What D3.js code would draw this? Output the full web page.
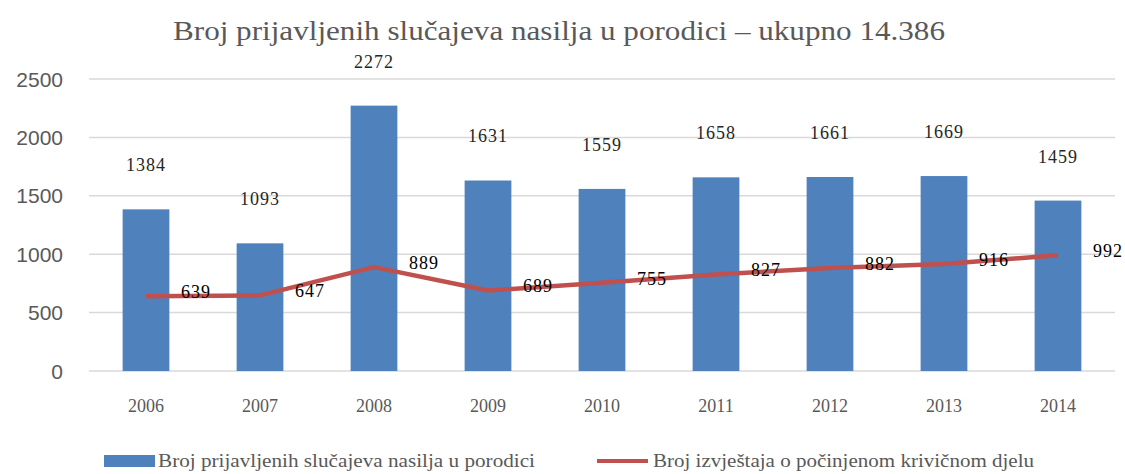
<!DOCTYPE html>
<html>
<head>
<meta charset="utf-8">
<script src="https://cdn.jsdelivr.net/npm/d3@7"></script>
<style>
  body { margin: 0; background: #fff; }
  svg { display: block; }
</style>
</head>
<body>
<div id="chart"></div>
<script>
// chart data
var years = ["2006", "2007", "2008", "2009", "2010", "2011", "2012", "2013", "2014"];
var prijave = [1384, 1093, 2272, 1631, 1559, 1658, 1661, 1669, 1459];
var izvjestaji = [639, 647, 889, 689, 755, 827, 882, 916, 992];
var yTicks = [0, 500, 1000, 1500, 2000, 2500];
var titleText = "Broj prijavljenih slučajeva nasilja u porodici \u2013 ukupno 14.386";
var seriesNames = ["Broj prijavljenih slučajeva nasilja u porodici", "Broj izvještaja o počinjenom krivičnom djelu"];

var W = 1125, H = 474;
var margin = { top: 79, right: 10, bottom: 103, left: 89 };
var width = W - margin.left - margin.right;
var height = H - margin.top - margin.bottom;

var serif = "'Liberation Serif', 'Times New Roman', serif";

var svg = d3.select("#chart").append("svg")
    .attr("width", W)
    .attr("height", H);

var g = svg.append("g")
    .attr("transform", "translate(" + margin.left + "," + margin.top + ")");

// scales
var x = d3.scaleBand()
    .domain(years)
    .range([0, width])
    .paddingInner(0.59)
    .paddingOuter(0.295);

var y = d3.scaleLinear()
    .domain([0, 2500])
    .range([height, 0]);

// gridlines
g.append("g").attr("class", "grid")
    .selectAll("line")
    .data(yTicks)
    .enter().append("line")
    .attr("x1", 0)
    .attr("x2", width)
    .attr("y1", function(d){ return y(d); })
    .attr("y2", function(d){ return y(d); })
    .attr("stroke", "#d9d9d9")
    .attr("stroke-width", 1.5);

// y tick labels
g.append("g")
    .selectAll("text")
    .data(yTicks)
    .enter().append("text")
    .attr("x", -26)
    .attr("y", function(d){ return y(d); })
    .attr("dy", "0.36em")
    .attr("text-anchor", "end")
    .attr("font-family", "'Liberation Sans', Arial, sans-serif")
    .attr("font-size", "21px")
    .attr("fill", "#595959")
    .text(function(d){ return d; });

// bars
g.append("g")
    .selectAll("rect")
    .data(prijave)
    .enter().append("rect")
    .attr("x", function(d, i){ return x(years[i]); })
    .attr("y", function(d){ return y(d); })
    .attr("width", x.bandwidth())
    .attr("height", function(d){ return height - y(d); })
    .attr("fill", "#4f81bd");

// bar labels (sit well above the bars, as in the original)
g.append("g")
    .selectAll("text")
    .data(prijave)
    .enter().append("text")
    .attr("x", function(d, i){ return x(years[i]) + x.bandwidth() / 2; })
    .attr("y", function(d){ return y(d) - 38; })
    .attr("text-anchor", "middle")
    .attr("font-family", serif)
    .attr("font-size", "18px")
    .attr("letter-spacing", "1px")
    .attr("fill", "#262626")
    .text(function(d){ return d; });

// line
var line = d3.line()
    .x(function(d, i){ return x(years[i]) + x.bandwidth() / 2; })
    .y(function(d){ return y(d); });

g.append("path")
    .datum(izvjestaji)
    .attr("d", line)
    .attr("fill", "none")
    .attr("stroke", "#c0504d")
    .attr("stroke-width", 4.5)
    .attr("stroke-linejoin", "round");

// line labels, right of each point
g.append("g")
    .selectAll("text")
    .data(izvjestaji)
    .enter().append("text")
    .attr("x", function(d, i){ return x(years[i]) + x.bandwidth() / 2 + 50; })
    .attr("y", function(d){ return y(d); })
    .attr("dy", "0.1em")
    .attr("text-anchor", "middle")
    .attr("font-family", serif)
    .attr("font-size", "18px")
    .attr("letter-spacing", "1px")
    .attr("fill", "#000")
    .text(function(d){ return d; });

// x labels
g.append("g")
    .selectAll("text")
    .data(years)
    .enter().append("text")
    .attr("x", function(d){ return x(d) + x.bandwidth() / 2; })
    .attr("y", height + 41)
    .attr("text-anchor", "middle")
    .attr("font-family", serif)
    .attr("font-size", "18px")
    .attr("fill", "#595959")
    .text(function(d){ return d; });

// title - stretched to the width it has in the original
svg.append("text")
    .attr("x", 173)
    .attr("y", 40)
    .attr("font-family", serif)
    .attr("font-size", "28px")
    .attr("textLength", 772)
    .attr("lengthAdjust", "spacingAndGlyphs")
    .attr("fill", "#595959")
    .text(titleText);

// legend
var legend = svg.append("g").attr("transform", "translate(0,461)");

legend.append("rect")
    .attr("x", 104)
    .attr("y", -6)
    .attr("width", 51)
    .attr("height", 12)
    .attr("fill", "#4f81bd");

legend.append("text")
    .attr("x", 158)
    .attr("y", 6)
    .attr("font-family", serif)
    .attr("font-size", "19px")
    .attr("textLength", 377)
    .attr("lengthAdjust", "spacingAndGlyphs")
    .attr("fill", "#595959")
    .text(seriesNames[0]);

legend.append("line")
    .attr("x1", 597)
    .attr("x2", 648)
    .attr("y1", 0)
    .attr("y2", 0)
    .attr("stroke", "#c0504d")
    .attr("stroke-width", 4);

legend.append("text")
    .attr("x", 653)
    .attr("y", 6)
    .attr("font-family", serif)
    .attr("font-size", "19px")
    .attr("textLength", 381)
    .attr("lengthAdjust", "spacingAndGlyphs")
    .attr("fill", "#595959")
    .text(seriesNames[1]);
</script>
</body>
</html>
